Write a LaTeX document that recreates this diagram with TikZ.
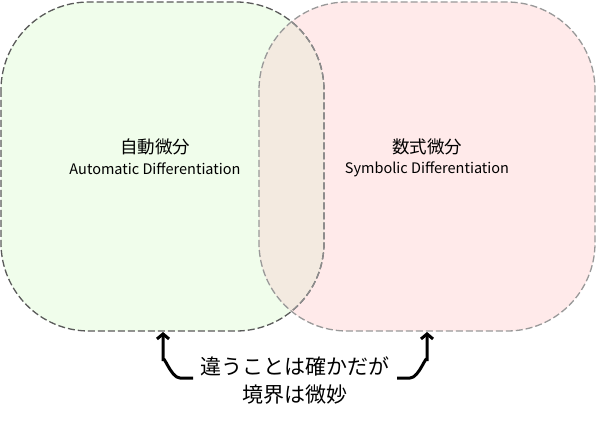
\documentclass[tikz,border=0pt]{standalone}
\usepackage{fontspec}
\setmainfont{Noto Sans CJK JP}
\usetikzlibrary{arrows.meta}
\definecolor{lgreen}{HTML}{F0FDEB}
\definecolor{lpink}{HTML}{FFEAEA}
\definecolor{lbeige}{HTML}{F3EAE0}
\definecolor{dgray}{HTML}{5A5A5A}
\definecolor{mgray}{HTML}{999999}
\begin{document}
\begin{tikzpicture}[x=1pt,y=-1pt,
  setbox/.style={rounded corners=88pt},
  border/.style={dashed, dash pattern=on 7pt off 3pt, line width=1.3pt},
  arr/.style={line width=3pt, -{Straight Barb[length=5pt,width=12pt,line width=3pt]}},
  jp/.style={inner sep=0pt, font=\fontsize{17.5}{20}\selectfont},
  en/.style={inner sep=0pt, font=\fontsize{14.5}{17}\selectfont},
  note/.style={align=center, inner sep=0pt, font=\fontsize{21}{28}\selectfont}]
\useasboundingbox (0,0) rectangle (597,422);
% fills
\fill[lgreen, setbox] (1,2) rectangle (324,331);
\fill[lpink, setbox] (259,2) rectangle (595,331);
\begin{scope}
  \clip[setbox] (1,2) rectangle (324,331);
  \fill[lbeige, setbox] (259,2) rectangle (595,331);
\end{scope}
% borders
\draw[border, dgray, setbox] (1,2) rectangle (324,331);
\begin{scope}
  \clip[setbox] (259,2) rectangle (595,331);
  \draw[border, mgray!80!dgray, setbox] (1,2) rectangle (324,331);
\end{scope}
\draw[border, mgray, setbox] (259,2) rectangle (595,331);
% labels
\node[jp] (adj) at (155,147) {自動微分};
\node[en] (ade) at (155,169) {Automatic Differentiation};
\node[jp] (sdj) at (427,147) {数式微分};
\node[en] (sde) at (427,169) {Symbolic Differentiation};
\node[note] (note) at (295,381) {違うことは確かだが\\境界は微妙};
% arrows
\coordinate (lt) at (163,332);
\coordinate (rt) at (427,332);
\coordinate (ls) at (193,378);
\coordinate (rs) at (397,378);
\draw[arr] (ls) -- (180,378) to[out=180,in=90] (163,361) -- (lt);
\draw[arr] (rs) -- (410,378) to[out=0,in=90] (427,361) -- (rt);
\end{tikzpicture}
\end{document}
